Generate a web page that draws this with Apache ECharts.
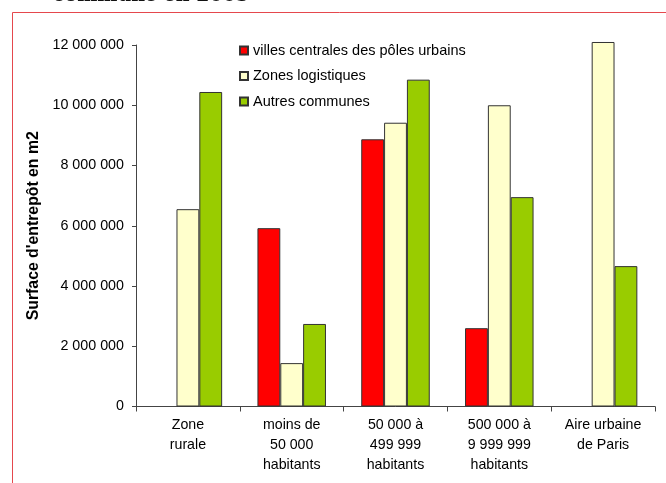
<!DOCTYPE html>
<html><head><meta charset="utf-8">
<script src="https://cdn.jsdelivr.net/npm/echarts@6/dist/echarts.min.js"></script>
<style>html,body{margin:0;padding:0;background:#fff}#c{width:666px;height:483px}</style>
</head><body><div id="c"></div>
<script>
const categories = ['Zone\nrurale', 'moins de\n50 000\nhabitants', '50 000 à\n499 999\nhabitants', '500 000 à\n9 999 999\nhabitants', 'Aire urbaine\nde Paris'];
const seriesNames = ['villes centrales des pôles urbains', 'Zones logistiques', 'Autres communes'];
const villesCentrales = ['-', 5920000, 8870000, 2600000, '-'];
const zonesLogistiques = [6550000, 1440000, 9420000, 10000000, 12100000];
const autresCommunes = [10440000, 2740000, 10850000, 6950000, 4660000];
const yTicks = [0, 2000000, 4000000, 6000000, 8000000, 10000000, 12000000];
const colors = ['#FF0000', '#FFFFCC', '#99CC00'];

const fmt = v => String(v).replace(/\B(?=(\d{3})+(?!\d))/g, ' ');
const font = 'Liberation Sans, Arial, sans-serif';
const chart = echarts.init(document.getElementById('c'), null, {renderer: 'canvas'});
const data = [villesCentrales, zonesLogistiques, autresCommunes];
chart.setOption({
  animation: false,
  backgroundColor: '#fff',
  graphic: [
    {type: 'rect', shape: {x: 12.5, y: 12.5, width: 700, height: 500}, style: {fill: 'none', stroke: '#e5484d', lineWidth: 1}, silent: true},
    {type: 'text', left: 53, top: -13, style: {text: 'commune en 2005', font: 'bold 19px "DejaVu Serif", serif', fill: '#111'}}
  ],
  legend: {
    orient: 'vertical', left: 234, top: 37,
    itemWidth: 8, itemHeight: 8, itemGap: 8.5, itemTextGap: 6,
    icon: 'rect',
    textStyle: {fontFamily: font, fontSize: 14.5, color: '#000', lineHeight: 17},
    data: seriesNames
  },
  grid: {left: 136, right: 11, top: 45, bottom: 76.5, containLabel: false},
  xAxis: {
    type: 'category', data: categories,
    axisLine: {lineStyle: {color: '#444', width: 1}},
    axisTick: {show: true, length: 5, lineStyle: {color: '#444'}},
    axisLabel: {fontFamily: font, fontSize: 14.2, color: '#000', lineHeight: 20, margin: 9, interval: 0}
  },
  yAxis: {
    type: 'value', min: 0, max: 12000000, interval: 2000000,
    name: "Surface d'entrepôt en m2", nameLocation: 'middle', nameGap: 94,
    nameTextStyle: {fontFamily: font, fontSize: 15.8, fontWeight: 'bold', color: '#000'},
    axisLine: {show: true, lineStyle: {color: '#444', width: 1}},
    axisTick: {show: true, length: 4, lineStyle: {color: '#444'}},
    splitLine: {show: false},
    axisLabel: {fontFamily: font, fontSize: 14.3, color: '#000', margin: 12, formatter: v => yTicks.includes(v) ? fmt(v) : ''}
  },
  series: seriesNames.map((n, i) => ({
    name: n, type: 'bar', data: data[i], clip: false,
    barGap: '0%', barCategoryGap: '34%',
    itemStyle: {color: colors[i], borderColor: '#333', borderWidth: 1}
  }))
});
</script></body></html>
